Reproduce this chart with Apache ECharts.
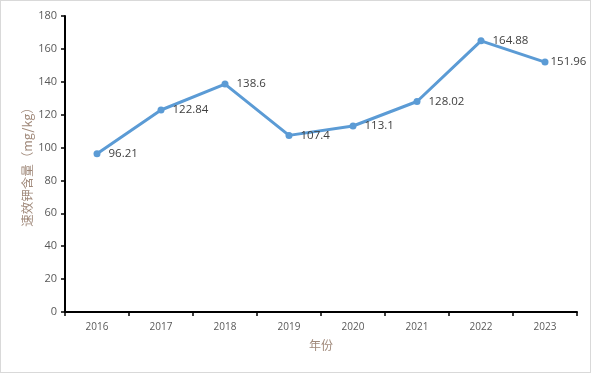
<!DOCTYPE html>
<html><head><meta charset="utf-8">
<script src="https://cdn.jsdelivr.net/npm/echarts@6/dist/echarts.min.js"></script>
<style>html,body{margin:0;padding:0;background:#fff}#c{width:589px;height:371px;border:1px solid #d9d9d9}</style>
</head><body><div id="c"></div>
<script>
var years = ['2016','2017','2018','2019','2020','2021','2022','2023'];
var values = [96.21, 122.84, 138.6, 107.4, 113.1, 128.02, 164.88, 151.96];
var yTicks = [0, 20, 40, 60, 80, 100, 120, 140, 160, 180];
var seriesData = values.map(function (v, i) {
  return i === values.length - 1 ? {value: v, label: {distance: 2}} : v;
});
var chart = echarts.init(document.getElementById('c'));
chart.setOption({
  animation: false,
  grid: {left: 64, right: 13, top: 15, bottom: 60},
  xAxis: {
    type: 'category', data: years, boundaryGap: true,
    name: '年份', nameLocation: 'middle', nameGap: 27,
    nameTextStyle: {color: '#a0897a', fontSize: 12, fontFamily: 'Noto Sans CJK SC'},
    axisLine: {lineStyle: {color: '#000', width: 2}},
    axisTick: {show: true, length: 4, lineStyle: {color: '#000', width: 1.5}},
    axisLabel: {color: '#595959', fontSize: 10, fontFamily: 'Open Sans', margin: 10}
  },
  yAxis: {
    type: 'value', min: yTicks[0], max: yTicks[yTicks.length-1], interval: 20,
    name: '速效钾含量（mg/kg）', nameLocation: 'middle', nameGap: 31, nameMoveOverlap: false,
    nameTextStyle: {color: '#a0897a', fontSize: 12.5, fontFamily: 'Noto Sans CJK SC'},
    axisLine: {show: true, lineStyle: {color: '#000', width: 2}},
    axisTick: {show: true, length: 4, lineStyle: {color: '#000', width: 1.5}},
    splitLine: {show: false},
    axisLabel: {color: '#595959', fontSize: 11, fontFamily: 'Open Sans', margin: 8}
  },
  series: [{
    type: 'line', data: seriesData,
    symbol: 'circle', symbolSize: 7,
    lineStyle: {color: '#5b9bd5', width: 3},
    itemStyle: {color: '#5b9bd5'},
    label: {show: true, position: 'right', distance: 8, color: '#404040', fontSize: 11.5, fontFamily: 'Open Sans'}
  }]
});
</script></body></html>
